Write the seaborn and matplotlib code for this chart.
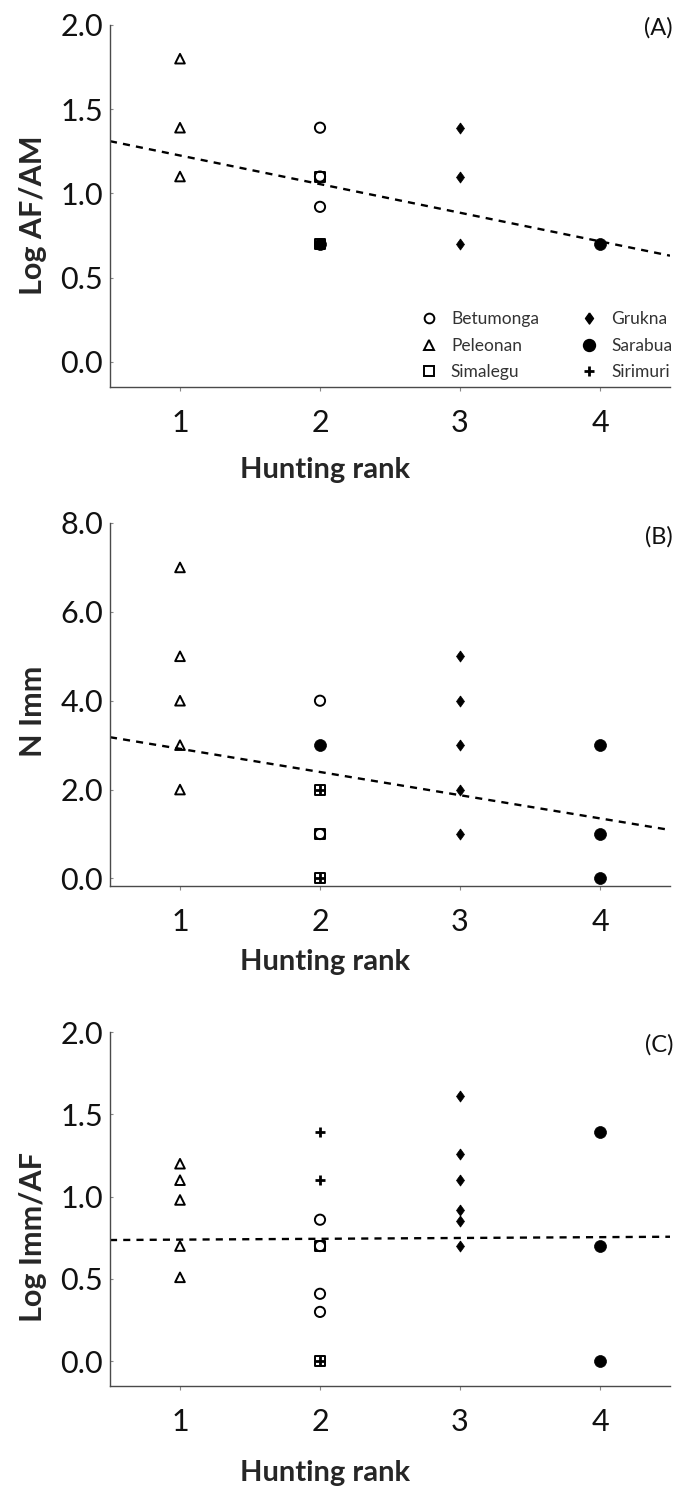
import numpy as np
import pandas as pd
import matplotlib
matplotlib.use("Agg")
import matplotlib.pyplot as plt
import seaborn as sns
from matplotlib.lines import Line2D
from matplotlib.ticker import FormatStrFormatter

sns.set_style("ticks")
plt.rcParams["font.family"] = ["Lato", "DejaVu Sans"]

# ---------------- data ----------------
site_order = ["Betumonga", "Peleonan", "Simalegu", "Grukna", "Sarabua", "Sirimuri"]

# Panel A: Log AF/AM
a_site = ["Peleonan", "Peleonan", "Peleonan",
          "Betumonga", "Betumonga", "Betumonga",
          "Simalegu", "Simalegu", "Sarabua",
          "Grukna", "Grukna", "Grukna",
          "Sarabua"]
a_rank = [1, 1, 1, 2, 2, 2, 2, 2, 2, 3, 3, 3, 4]
a_value = [1.80, 1.39, 1.10, 1.39, 1.10, 0.92, 1.10, 0.70, 0.70, 1.39, 1.10, 0.70, 0.70]

# Panel B: N Imm
b_site = ["Peleonan"] * 5 + ["Betumonga"] * 2 + ["Sarabua"] + ["Simalegu"] * 3 + \
         ["Sirimuri"] * 2 + ["Grukna"] * 5 + ["Sarabua"] * 3
b_rank = [1, 1, 1, 1, 1, 2, 2, 2, 2, 2, 2, 2, 2, 3, 3, 3, 3, 3, 4, 4, 4]
b_value = [7, 5, 4, 3, 2, 4, 1, 3, 2, 1, 0, 2, 0, 5, 4, 3, 2, 1, 3, 1, 0]

# Panel C: Log Imm/AF
c_site = ["Peleonan"] * 5 + ["Sirimuri"] * 3 + ["Betumonga"] * 4 + ["Simalegu"] * 2 + \
         ["Grukna"] * 6 + ["Sarabua"] * 3
c_rank = [1] * 5 + [2] * 9 + [3] * 6 + [4] * 3
c_value = [1.20, 1.10, 0.98, 0.70, 0.51,
           1.39, 1.10, 0.00,
           0.86, 0.70, 0.41, 0.30,
           0.70, 0.00,
           1.61, 1.26, 1.10, 0.92, 0.85, 0.70,
           1.39, 0.70, 0.00]

# fitted trend lines (intercept at rank 0, slope)
fit_intercept = [1.395, 3.44, 0.734]
fit_slope = [-0.170, -0.522, 0.005]

panel_ylabels = ["Log AF/AM", "N Imm", "Log Imm/AF"]
panel_tags = ["(A)", "(B)", "(C)"]
x_ticks = [1, 2, 3, 4]
y_ticks = [[0.0, 0.5, 1.0, 1.5, 2.0], [0.0, 2.0, 4.0, 6.0, 8.0], [0.0, 0.5, 1.0, 1.5, 2.0]]
y_limits = [(-0.15, 2.0), (-0.17, 8.0), (-0.15, 2.0)]
xlabel = "Hunting rank"

# ---------------- styles ----------------
diamond = [(0, 1), (0.72, 0), (0, -1), (-0.72, 0), (0, 1)]
styles = {
    "Betumonga": dict(marker="o", s=54, facecolor="none", edgecolor="black", linewidth=1.4),
    "Peleonan": dict(marker="^", s=48, facecolor="none", edgecolor="black", linewidth=1.4),
    "Simalegu": dict(marker="s", s=52, facecolor="none", edgecolor="black", linewidth=1.4),
    "Grukna": dict(marker=diamond, s=64, color="black", edgecolor="black", linewidth=0.5),
    "Sarabua": dict(marker="o", s=74, color="black", edgecolor="black", linewidth=0.5),
    "Sirimuri": dict(marker="+", s=56, color="black", linewidth=2.0),
}
draw_order = ["Simalegu", "Betumonga", "Peleonan", "Grukna", "Sarabua", "Sirimuri"]

frames = [
    pd.DataFrame({"site": a_site, "rank": a_rank, "value": a_value}),
    pd.DataFrame({"site": b_site, "rank": b_rank, "value": b_value}),
    pd.DataFrame({"site": c_site, "rank": c_rank, "value": c_value}),
]

W, H = 689, 1504
fig = plt.figure(figsize=(W / 100, H / 100), dpi=100)

# axes boxes in pixels: (top, bottom)
boxes = [(25, 387), (523, 886), (1032, 1386)]
tag_y = [28, 537, 1045]
xlabel_y = [470, 962, 1473]
ylabel_frac = [0.475, 0.48, 0.42]
left_px, right_px = 110, 670
spine_col = "#4a4a4a"

axes = []
for i, df in enumerate(frames):
    top, bot = boxes[i]
    ax = fig.add_axes([left_px / W, 1 - bot / H, (right_px - left_px) / W, (bot - top) / H])
    axes.append(ax)
    for site in draw_order:
        sub = df[df["site"] == site]
        if len(sub) == 0:
            continue
        sns.scatterplot(data=sub, x="rank", y="value", ax=ax, legend=False,
                        zorder=3, **styles[site])
    xs = np.array([0.5, 4.5])
    ys = fit_intercept[i] + fit_slope[i] * xs
    sns.lineplot(x=xs, y=ys, ax=ax, color="black", linewidth=1.7,
                 linestyle=(0, (3.0, 2.6)), zorder=2)

    ax.set_xlim(0.5, 4.5)
    ax.set_ylim(*y_limits[i])
    ax.set_xticks(x_ticks)
    ax.set_yticks(y_ticks[i])
    ax.yaxis.set_major_formatter(FormatStrFormatter("%.1f"))
    for s in ["top", "right"]:
        ax.spines[s].set_visible(False)
    for s in ["left", "bottom"]:
        ax.spines[s].set_color(spine_col)
        ax.spines[s].set_linewidth(1.0)
    ax.tick_params(axis="y", direction="in", length=2, width=0.8, color="#888888",
                   labelsize=22, pad=5, labelcolor="#111111")
    ax.tick_params(axis="x", direction="out", length=3, width=0.8, color="#888888",
                   labelsize=22, pad=13, labelcolor="#111111")
    ax.set_xlabel(xlabel, fontsize=21, fontweight="bold", labelpad=0)
    ax.set_ylabel(panel_ylabels[i], fontsize=22, fontweight="bold")
    ax.yaxis.set_label_coords(-0.1375, ylabel_frac[i])
    ax.yaxis.label.set_va("center")
    ax.xaxis.set_label_coords(0.384, 1 - (xlabel_y[i] - top) / (bot - top))
    ax.xaxis.label.set_va("center")
    ax.text(0.98, 1 - (tag_y[i] - top) / (bot - top), panel_tags[i],
            transform=ax.transAxes, ha="center", va="center", fontsize=17, color="#111111")
    ax.grid(False)

# legend in panel A
handles = []
for site in site_order:
    st = styles[site]
    if site in ("Betumonga", "Peleonan", "Simalegu"):
        h = Line2D([], [], linestyle="none", marker=st["marker"], markersize=np.sqrt(st["s"]) * 0.95,
                   markerfacecolor="none", markeredgecolor="black", markeredgewidth=1.4)
    elif site == "Sirimuri":
        h = Line2D([], [], linestyle="none", marker="+", markersize=np.sqrt(st["s"]),
                   markeredgecolor="black", markeredgewidth=2.0)
    else:
        h = Line2D([], [], linestyle="none", marker=st["marker"], markersize=np.sqrt(st["s"]),
                   markerfacecolor="black", markeredgecolor="black")
    handles.append(h)
leg = axes[0].legend(handles, site_order, ncol=2, loc="lower right",
                     bbox_to_anchor=(1.004, 0.019), frameon=False, fontsize=12.5,
                     handlelength=1.0, handletextpad=0.76, columnspacing=2.4,
                     labelspacing=0.6, borderaxespad=0.0, borderpad=0.0)
for t in leg.get_texts():
    t.set_color("#333333")

fig.savefig("out.png", dpi=100, facecolor="white")
